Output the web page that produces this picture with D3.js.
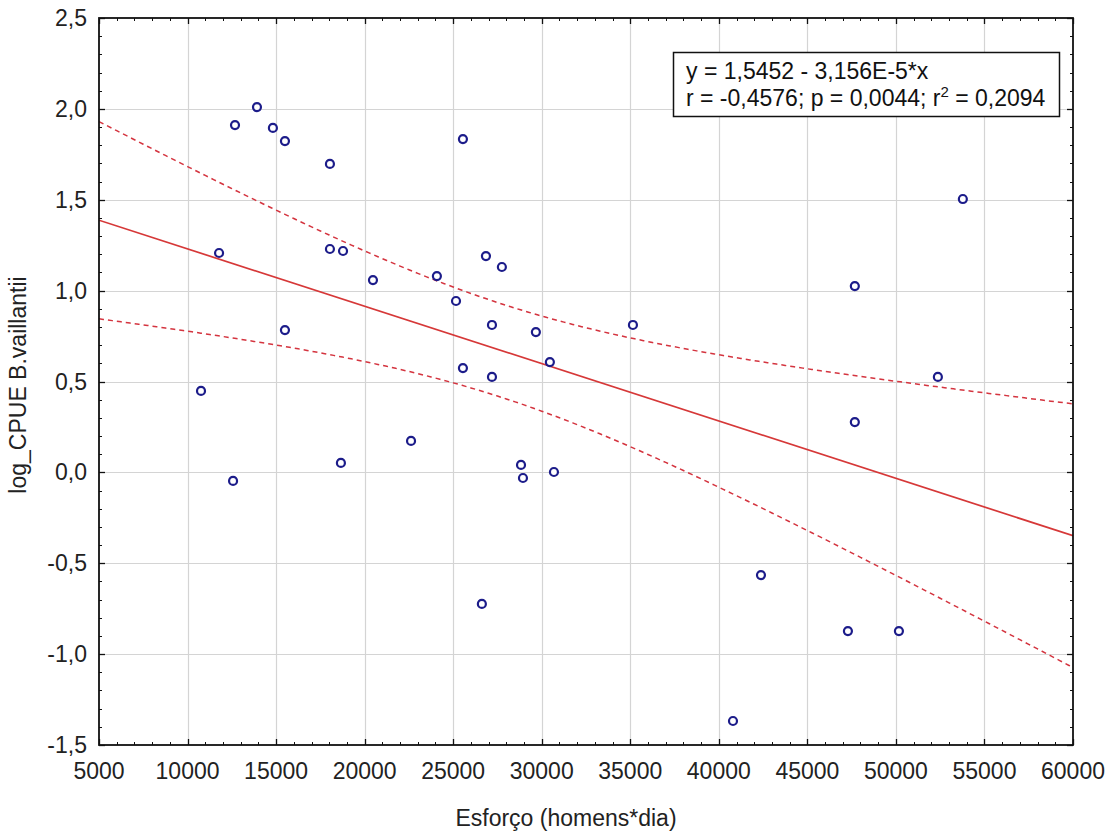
<!DOCTYPE html>
<html>
<head>
<meta charset="utf-8">
<script src="https://cdn.jsdelivr.net/npm/d3@7"></script>
<style>
  html, body { margin: 0; padding: 0; background: #fff; }
  svg { display: block; font-family: "Liberation Sans", Arial, sans-serif; }
</style>
</head>
<body>
<svg id="chart" width="1111" height="834"></svg>
<script>
// Fishing effort (homens*dia) and log CPUE of B. vaillantii
const esforco = [10760, 11780, 12570, 12680, 13920, 14820, 15500, 15500, 18040, 18040,
  18780, 18660, 20470, 22620, 24080, 25160, 25550, 25550, 26620, 26850,
  27190, 27190, 27750, 28830, 28940, 29670, 30460, 30690, 35150, 42380,
  40800, 47290, 47680, 47680, 50170, 52370, 53780];
const logCPUE = [0.448, 1.207, -0.047, 1.911, 2.010, 1.895, 1.823, 0.783, 1.697, 1.229,
  1.218, 0.052, 1.058, 0.173, 1.080, 0.943, 1.834, 0.574, -0.724, 1.190,
  0.811, 0.525, 1.130, 0.041, -0.031, 0.772, 0.607, 0.002, 0.811, -0.565,
  -1.368, -0.873, 1.025, 0.277, -0.873, 0.525, 1.504];

// Fitted line as reported
const intercept = 1.5452;
const slope = -3.156e-5;
const legendLines = ["y = 1,5452 - 3,156E-5*x", "r = -0,4576; p = 0,0044; r", "2", " = 0,2094"];

const xTicks = d3.range(5000, 60001, 5000);
const yTicks = [-1.5, -1.0, -0.5, 0.0, 0.5, 1.0, 1.5, 2.0, 2.5];

const svg = d3.select("#chart");
const pL = 99, pR = 1073, pT = 18, pB = 745;
const fs = 23;

const x = d3.scaleLinear().domain([5000, 60000]).range([pL, pR]);
const y = d3.scaleLinear().domain([-1.5, 2.5]).range([pB, pT]);

const fmtY = v => d3.format(".1f")(v).replace(".", ",").replace("−", "-");

// grid
svg.append("g").selectAll("line").data(xTicks.slice(1, -1)).join("line")
  .attr("x1", d => Math.round(x(d)) + 0.5).attr("x2", d => Math.round(x(d)) + 0.5)
  .attr("y1", pT).attr("y2", pB)
  .attr("stroke", "#d4d4d4").attr("stroke-width", 1.2);
svg.append("g").selectAll("line").data(yTicks.slice(1, -1)).join("line")
  .attr("y1", d => Math.round(y(d)) + 0.5).attr("y2", d => Math.round(y(d)) + 0.5)
  .attr("x1", pL).attr("x2", pR)
  .attr("stroke", "#d4d4d4").attr("stroke-width", 1.2);

// 95% confidence band around the reported line
const n = esforco.length;
const xbar = d3.mean(esforco);
const sxx = d3.sum(esforco, v => (v - xbar) ** 2);
const sse = d3.sum(esforco, (v, i) => (logCPUE[i] - (intercept + slope * v)) ** 2);
const s = Math.sqrt(sse / (n - 2));
const tcrit = 2.030;
const xs = d3.range(5000, 60001, 250);
const fit = v => intercept + slope * v;
const hw = v => tcrit * s * Math.sqrt(1 / n + (v - xbar) ** 2 / sxx);

svg.append("clipPath").attr("id", "plotclip")
  .append("rect").attr("x", pL).attr("y", pT).attr("width", pR - pL).attr("height", pB - pT);

const g = svg.append("g").attr("clip-path", "url(#plotclip)");
const line = d3.line().x(d => x(d[0])).y(d => y(d[1]));

g.append("path").datum(xs.map(v => [v, fit(v) + hw(v)]))
  .attr("d", line).attr("fill", "none").attr("stroke", "#d4343f")
  .attr("stroke-width", 1.5).attr("stroke-dasharray", "5,4");
g.append("path").datum(xs.map(v => [v, fit(v) - hw(v)]))
  .attr("d", line).attr("fill", "none").attr("stroke", "#d4343f")
  .attr("stroke-width", 1.5).attr("stroke-dasharray", "5,4");
g.append("path").datum([[5000, fit(5000)], [60000, fit(60000)]])
  .attr("d", line).attr("fill", "none").attr("stroke", "#d63838")
  .attr("stroke-width", 1.7);

// points
svg.append("g").selectAll("circle").data(esforco).join("circle")
  .attr("cx", d => x(d)).attr("cy", (d, i) => y(logCPUE[i]))
  .attr("r", 4).attr("fill", "#fff")
  .attr("stroke", "#1c1c8a").attr("stroke-width", 2.2);

// frame and inward ticks on all four sides
const axisColor = "#111";
const xMinor = d3.range(5000, 60001, 1000);
const yMinor = d3.range(-15, 26, 1).map(v => v / 10);
const tg = svg.append("g").attr("stroke", axisColor);
xMinor.forEach(v => {
  const major = v % 5000 === 0;
  const len = major ? 6 : 3;
  const px = Math.round(x(v)) + 0.5;
  tg.append("line").attr("x1", px).attr("x2", px).attr("y1", pB).attr("y2", pB - len).attr("stroke-width", major ? 1.3 : 1);
  tg.append("line").attr("x1", px).attr("x2", px).attr("y1", pT).attr("y2", pT + len).attr("stroke-width", major ? 1.3 : 1);
});
yMinor.forEach(v => {
  const major = Math.abs(Math.round(v * 10) % 5) === 0;
  const len = major ? 6 : 3;
  const py = Math.round(y(v)) + 0.5;
  tg.append("line").attr("y1", py).attr("y2", py).attr("x1", pL).attr("x2", pL + len).attr("stroke-width", major ? 1.3 : 1);
  tg.append("line").attr("y1", py).attr("y2", py).attr("x1", pR).attr("x2", pR - len).attr("stroke-width", major ? 1.3 : 1);
});
svg.append("rect").attr("x", pL).attr("y", pT).attr("width", pR - pL).attr("height", pB - pT)
  .attr("fill", "none").attr("stroke", axisColor).attr("stroke-width", 1.8);

// tick labels
svg.append("g").selectAll("text").data(xTicks).join("text")
  .attr("x", d => x(d)).attr("y", 779)
  .attr("text-anchor", "middle").attr("font-size", fs).attr("fill", "#222")
  .text(d => d);
svg.append("g").selectAll("text").data(yTicks).join("text")
  .attr("x", 87).attr("y", d => y(d) + 8)
  .attr("text-anchor", "end").attr("font-size", fs).attr("fill", "#222")
  .text(fmtY);

// axis titles
svg.append("text").attr("x", 566).attr("y", 826)
  .attr("text-anchor", "middle").attr("font-size", fs).attr("fill", "#222")
  .text("Esforço (homens*dia)");
svg.append("text").attr("transform", `translate(26,385) rotate(-90)`)
  .attr("text-anchor", "middle").attr("font-size", fs).attr("fill", "#222")
  .text("log_CPUE B.vaillantii");

// equation box
const lg = svg.append("g");
lg.append("rect").attr("x", 673.5).attr("y", 52.5).attr("width", 386).attr("height", 64)
  .attr("fill", "#fff").attr("stroke", "#111").attr("stroke-width", 1.5);
lg.append("text").attr("x", 686).attr("y", 79).attr("font-size", fs).attr("fill", "#111").text(legendLines[0]);
const t2 = lg.append("text").attr("x", 686).attr("y", 106).attr("font-size", fs).attr("fill", "#111");
t2.append("tspan").text(legendLines[1]);
t2.append("tspan").attr("dy", -9).attr("font-size", 15).text(legendLines[2]);
t2.append("tspan").attr("dy", 9).text(legendLines[3]);
</script>
</body>
</html>
